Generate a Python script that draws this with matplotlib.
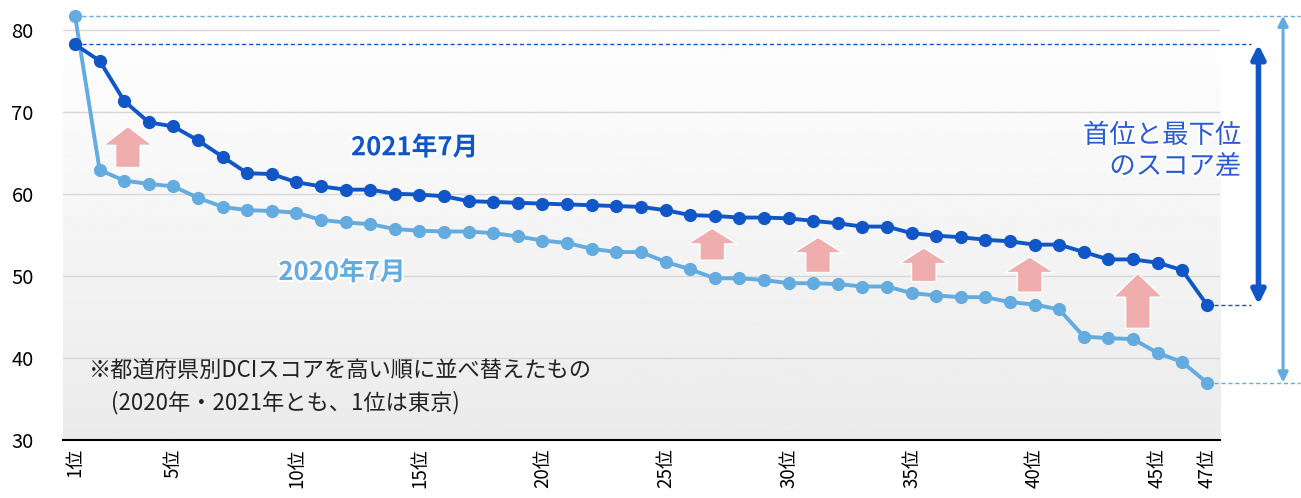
import matplotlib
matplotlib.use('Agg')
import matplotlib.pyplot as plt
import matplotlib.patheffects as pe
from matplotlib.patches import Polygon, FancyArrowPatch
import numpy as np

plt.rcParams['font.family'] = ['Noto Sans CJK JP', 'DejaVu Sans']

# ── DATA ──────────────────────────────────────────────────────────────────────
RANKS = list(range(1, 48))
SCORE_2021 = [78.2, 76.2, 71.3, 68.7, 68.2, 66.5, 64.5, 62.5, 62.4, 61.4,
              60.9, 60.5, 60.5, 60.0, 59.9, 59.7, 59.1, 59.0, 58.9, 58.8,
              58.7, 58.6, 58.5, 58.4, 58.0, 57.4, 57.3, 57.1, 57.1, 57.0,
              56.7, 56.4, 56.0, 56.0, 55.2, 54.9, 54.7, 54.4, 54.2, 53.8,
              53.8, 52.9, 52.0, 52.0, 51.6, 50.7, 46.5]
SCORE_2020 = [81.7, 62.9, 61.6, 61.2, 60.9, 59.5, 58.4, 58.0, 57.9, 57.7,
              56.8, 56.5, 56.3, 55.7, 55.5, 55.4, 55.4, 55.2, 54.8, 54.3,
              54.0, 53.3, 52.9, 52.9, 51.7, 50.8, 49.7, 49.7, 49.5, 49.1,
              49.1, 49.0, 48.7, 48.7, 47.9, 47.6, 47.4, 47.4, 46.8, 46.5,
              45.9, 42.6, 42.4, 42.3, 40.6, 39.5, 37.0]
TICK_RANKS = [1, 5, 10, 15, 20, 25, 30, 35, 40, 45, 47]
TICK_LABELS = [f'{r}位' for r in TICK_RANKS]

# pink "up" arrows: (x rank, base, tip, head height)
UP_ARROWS = [(3.15, 63.2, 68.2, 2.3),
             (26.9, 51.9, 55.8, 1.9),
             (31.2, 50.4, 54.7, 1.9),
             (35.5, 49.3, 53.4, 1.9),
             (39.8, 48.0, 52.3, 1.9),
             (44.2, 43.6, 50.3, 2.9)]

DARK = '#1056c6'
LIGHT = '#64abdf'
PINK = '#f0adad'
TEXT_BLUE = '#2a5bd2'

halo = [pe.withStroke(linewidth=3, foreground='white')]

# ── PLOT ──────────────────────────────────────────────────────────────────────
fig = plt.figure(figsize=(13.01, 4.98), dpi=100)
ax = fig.add_axes([0.0484, 0.1165, 0.8894, 0.8735])
ax.set_xlim(0.51, 47.54)
ax.set_ylim(30, 83)

# background gradient white -> light gray
grad = np.linspace(0.92, 1.0, 256).reshape(-1, 1)
ax.imshow(grad, cmap='gray', vmin=0, vmax=1, aspect='auto', origin='lower',
          extent=(0.51, 47.54, 30, 83), zorder=0)

for v in [40, 50, 60, 70, 80]:
    ax.axhline(v, color='#d6d6d6', lw=1, zorder=1)

for s in ['top', 'right', 'left']:
    ax.spines[s].set_visible(False)
ax.spines['bottom'].set_color('black')
ax.spines['bottom'].set_linewidth(1.5)

ax.set_yticks([30, 40, 50, 60, 70, 80])
ax.tick_params(axis='y', length=0, labelsize=14.5, pad=21)
ax.set_xticks(TICK_RANKS)
ax.set_xticklabels(TICK_LABELS, rotation=90, fontsize=13.5)
ax.tick_params(axis='x', length=0, pad=6)

# dashed reference lines for top / bottom values
ax.plot([1, 50.8], [SCORE_2020[0]] * 2, ls='--', lw=1, color=LIGHT,
        dashes=(3, 2), clip_on=False, zorder=2)
ax.plot([1, 48.8], [SCORE_2021[0]] * 2, ls='--', lw=1, color=DARK,
        dashes=(3, 2), clip_on=False, zorder=2)
ax.plot([47, 48.8], [SCORE_2021[-1]] * 2, ls='--', lw=1, color=DARK,
        dashes=(3, 2), clip_on=False, zorder=2)
ax.plot([47, 50.8], [SCORE_2020[-1]] * 2, ls='--', lw=1, color=LIGHT,
        dashes=(3, 2), clip_on=False, zorder=2)

# series
ax.plot(RANKS, SCORE_2020, color=LIGHT, lw=2.8, marker='o', ms=8.5,
        clip_on=False, zorder=4)
ax.plot(RANKS, SCORE_2021, color=DARK, lw=2.8, marker='o', ms=8.5,
        clip_on=False, zorder=5)

# pink arrows
for x, base, tip, head in UP_ARROWS:
    hw, sw = 1.0, 0.5
    neck = tip - head
    pts = [(x - sw, base), (x + sw, base), (x + sw, neck), (x + hw, neck),
           (x, tip), (x - hw, neck), (x - sw, neck)]
    ax.add_patch(Polygon(pts, closed=True, facecolor=PINK, edgecolor='white',
                         lw=1, zorder=3))

# double arrows showing gap
ax.add_patch(FancyArrowPatch((49.1, SCORE_2021[-1]), (49.1, SCORE_2021[0]),
                             arrowstyle='<|-|>,head_length=8,head_width=4',
                             color=DARK, lw=4, clip_on=False,
                             shrinkA=0, shrinkB=0, zorder=5))
ax.add_patch(FancyArrowPatch((50.1, SCORE_2020[-1]), (50.1, SCORE_2020[0]),
                             arrowstyle='<|-|>,head_length=6,head_width=3',
                             color=LIGHT, lw=2.2, clip_on=False,
                             shrinkA=0, shrinkB=0, zorder=5))

# labels
ax.text(14.8, 65.6, '2021年7月', color=DARK, fontsize=18.5, fontweight='bold',
        ha='center', va='center', path_effects=halo, zorder=6)
ax.text(11.85, 50.4, '2020年7月', color=LIGHT, fontsize=18.5, fontweight='bold',
        ha='center', va='center', path_effects=halo, zorder=6)
ax.text(48.4, 65.2, '首位と最下位\nのスコア差', color=TEXT_BLUE, fontsize=19,
        ha='right', va='center', linespacing=1.2, path_effects=halo,
        clip_on=False, zorder=6)
ax.text(1.55, 38.35, '※都道府県別DCIスコアを高い順に並べ替えたもの', fontsize=16,
        ha='left', va='center', color='#222222', zorder=6)
ax.text(2.45, 34.6, '(2020年・2021年とも、1位は東京)', fontsize=16,
        ha='left', va='center', color='#222222', zorder=6)

fig.savefig('out.png', dpi=100)
